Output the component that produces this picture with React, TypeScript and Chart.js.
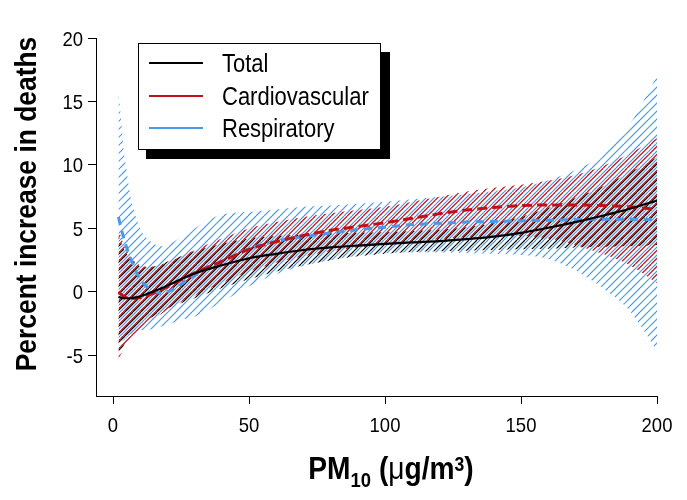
import React, { useEffect, useRef } from 'react';
import { Chart, registerables } from 'chart.js';
Chart.register(...registerables);

// PM10 concentration (µg/m3)
const pm10 = [2, 3, 4, 5, 6, 8, 10, 12, 15, 18, 20, 25, 30, 40, 50, 60, 70, 80, 90, 100, 110, 120, 130, 140, 150, 160, 170, 180, 190, 200];

// Total mortality
const totalEst = [-0.4, -0.45, -0.5, -0.5, -0.5, -0.45, -0.35, -0.2, 0.05, 0.3, 0.5, 1.0, 1.45, 2.1, 2.65, 3.0, 3.3, 3.5, 3.65, 3.78, 3.9, 4.0, 4.15, 4.35, 4.65, 5.05, 5.5, 6.0, 6.55, 7.2];
const totalLow = [-5.0, -4.6, -4.2, -3.8, -3.5, -3.0, -2.6, -2.3, -1.9, -1.5, -1.3, -0.9, -0.5, 0.3, 1.0, 1.6, 2.1, 2.5, 2.8, 3.0, 3.15, 3.2, 3.25, 3.3, 3.35, 3.4, 3.5, 3.55, 3.6, 3.7];
const totalHigh = [4.5, 3.9, 3.4, 3.0, 2.7, 2.3, 2.0, 1.95, 2.0, 2.2, 2.4, 2.8, 3.2, 3.8, 4.2, 4.4, 4.5, 4.6, 4.65, 4.7, 4.8, 4.9, 5.1, 5.4, 5.9, 6.6, 7.4, 8.3, 9.4, 10.6];

// Cardiovascular mortality
const cardioEst = [0.0, -0.2, -0.35, -0.45, -0.5, -0.5, -0.45, -0.35, -0.1, 0.2, 0.4, 0.95, 1.5, 2.4, 3.35, 3.95, 4.45, 4.85, 5.15, 5.45, 5.8, 6.15, 6.45, 6.65, 6.8, 6.85, 6.85, 6.8, 6.7, 6.5];
const cardioLow = [-5.3, -4.9, -4.5, -4.1, -3.8, -3.3, -2.9, -2.6, -2.1, -1.7, -1.4, -0.8, -0.3, 0.7, 1.6, 2.3, 2.8, 3.2, 3.5, 3.7, 3.95, 4.15, 4.3, 4.4, 4.4, 4.2, 3.7, 3.0, 2.1, 0.7];
const cardioHigh = [5.0, 4.3, 3.7, 3.3, 2.9, 2.4, 2.1, 2.0, 2.0, 2.2, 2.3, 2.8, 3.3, 4.2, 5.0, 5.5, 5.9, 6.2, 6.45, 6.7, 7.1, 7.5, 7.9, 8.2, 8.45, 8.75, 9.2, 9.9, 10.9, 12.1];

// Respiratory mortality
const respEst = [5.9, 5.0, 4.2, 3.5, 2.9, 1.8, 1.0, 0.5, 0.05, -0.1, 0.0, 0.6, 1.3, 2.4, 3.4, 4.0, 4.35, 4.65, 4.9, 5.1, 5.3, 5.4, 5.5, 5.55, 5.6, 5.65, 5.7, 5.72, 5.72, 5.7];
const respLow = [-4.0, -3.9, -3.8, -3.6, -3.4, -3.2, -3.0, -3.0, -2.9, -2.7, -2.6, -2.2, -1.95, -0.8, 0.45, 1.4, 2.05, 2.5, 2.85, 3.05, 3.1, 3.1, 3.05, 3.0, 2.9, 2.6, 1.7, 0.3, -1.5, -4.6];
const respHigh = [15.9, 13.5, 11.0, 9.6, 8.0, 6.2, 5.0, 4.3, 3.8, 3.6, 3.7, 4.3, 5.0, 6.1, 6.3, 6.5, 6.7, 6.8, 6.95, 7.1, 7.3, 7.5, 7.7, 7.95, 8.25, 8.8, 9.6, 10.8, 13.2, 17.0];

const xTicks = [0, 50, 100, 150, 200];
const yTicks = [-5, 0, 5, 10, 15, 20];
const legendLabels = ['Total', 'Cardiovascular', 'Respiratory'];

const BLACK = '#000000';
const RED = '#be1118';
const BLUE = '#4a98e8';
const FONT = '"Liberation Sans", Arial, sans-serif';
const SX = 0.88; // horizontal condensing of text

const pts = (ys: number[]) => pm10.map((x, i) => ({ x, y: ys[i] }));

function makeHatch(color: string, offset: number) {
  const W = 24, H = 24;
  const c = document.createElement('canvas');
  c.width = W;
  c.height = H;
  const g = c.getContext('2d')!;
  g.strokeStyle = color;
  g.lineWidth = 1.2;
  for (let k = -4; k <= 4; k++) {
    const a = offset + k * 8;
    g.beginPath();
    g.moveTo(a, H);
    g.lineTo(a + W, 0);
    g.stroke();
  }
  return g.createPattern(c, 'repeat')!;
}

function txt(ctx: CanvasRenderingContext2D, s: string, x: number, y: number, font: string, align: CanvasTextAlign) {
  ctx.save();
  ctx.font = font;
  ctx.translate(x, y);
  ctx.scale(SX, 1);
  ctx.textAlign = align;
  ctx.textBaseline = 'alphabetic';
  ctx.fillText(s, 0, 0);
  ctx.restore();
}

const overlayPlugin = {
  id: 'overlay',
  afterDraw(chart: any) {
    const ctx = chart.ctx as CanvasRenderingContext2D;
    const xs = chart.scales.x;
    const ys = chart.scales.y;
    ctx.save();
    ctx.fillStyle = '#000';

    // tick labels at the library's tick positions
    xTicks.forEach((v) => txt(ctx, String(v), xs.getPixelForValue(v), 432, `21px ${FONT}`, 'center'));
    yTicks.forEach((v) => txt(ctx, String(v), 83, ys.getPixelForValue(v) + 7.5, `21px ${FONT}`, 'right'));

    // legend with drop shadow
    ctx.fillStyle = '#000';
    ctx.fillRect(146, 52, 244, 107);
    ctx.fillStyle = '#fff';
    ctx.fillRect(138.5, 43.5, 242, 106);
    ctx.strokeStyle = '#000';
    ctx.lineWidth = 1;
    ctx.strokeRect(138.5, 43.5, 242, 106);
    const cols = [BLACK, RED, BLUE];
    const rows = [63, 96, 128];
    legendLabels.forEach((lab, i) => {
      ctx.strokeStyle = cols[i];
      ctx.lineWidth = 2;
      ctx.beginPath();
      ctx.moveTo(149, rows[i]);
      ctx.lineTo(203, rows[i]);
      ctx.stroke();
      ctx.fillStyle = '#000';
      txt(ctx, lab, 222, rows[i] + 9, `25px ${FONT}`, 'left');
    });

    // y-axis title
    ctx.save();
    ctx.translate(28, 204);
    ctx.rotate(-Math.PI / 2);
    ctx.scale(SX, 1);
    ctx.font = `bold 30px ${FONT}`;
    ctx.textAlign = 'center';
    ctx.textBaseline = 'middle';
    ctx.fillStyle = '#000';
    ctx.fillText('Percent increase in deaths', 0, 0);
    ctx.restore();

    // x-axis title: PM10 (µg/m3)
    const parts: [string, string, number][] = [
      ['PM', `bold 32px ${FONT}`, 0],
      ['10', `bold 21px ${FONT}`, 8],
      [' (', `bold 32px ${FONT}`, 0],
      ['\u03bc', `32px ${FONT}`, 0],
      ['g/m', `bold 32px ${FONT}`, 0],
      ['3', `bold 20px ${FONT}`, -8],
      [')', `bold 32px ${FONT}`, 0],
    ];
    let total = 0;
    parts.forEach(([t, f]) => {
      ctx.font = f;
      total += ctx.measureText(t).width * SX;
    });
    let x = 391 - total / 2;
    ctx.fillStyle = '#000';
    parts.forEach(([t, f, dy]) => {
      txt(ctx, t, x, 479 + dy, f, 'left');
      ctx.font = f;
      x += ctx.measureText(t).width * SX;
    });
    ctx.restore();
  },
};

export default function App() {
  const ref = useRef<HTMLCanvasElement | null>(null);
  useEffect(() => {
    document.body.style.margin = '0';
    const canvas = ref.current!;
    const hatchBlue = makeHatch(BLUE, 0);
    const hatchRed = makeHatch(RED, 3.3);
    const hatchBlack = makeHatch(BLACK, 5.0);
    const bandDs = (hi: number[], lo: number[], pat: CanvasPattern, order: number) => [
      {
        data: pts(hi),
        borderColor: 'rgba(0,0,0,0)',
        borderWidth: 0,
        pointRadius: 0,
        fill: '+1',
        backgroundColor: pat,
        cubicInterpolationMode: 'monotone',
        order,
      },
      {
        data: pts(lo),
        borderColor: 'rgba(0,0,0,0)',
        borderWidth: 0,
        pointRadius: 0,
        fill: false,
        cubicInterpolationMode: 'monotone',
        order,
      },
    ];
    const lineDs = (ys: number[], color: string, dash: number[], width: number, order: number) => ({
      data: pts(ys),
      borderColor: color,
      borderWidth: width,
      borderDash: dash,
      pointRadius: 0,
      fill: false,
      cubicInterpolationMode: 'monotone',
      order,
    });
    const chart = new Chart(canvas, {
      type: 'line',
      data: {
        datasets: [
          ...bandDs(respHigh, respLow, hatchBlue, 5),
          ...bandDs(cardioHigh, cardioLow, hatchRed, 4),
          ...bandDs(totalHigh, totalLow, hatchBlack, 3),
          lineDs(respEst, BLUE, [8, 6], 3, 2),
          lineDs(cardioEst, RED, [10, 5], 3, 1),
          lineDs(totalEst, BLACK, [], 2.2, 0),
        ] as any,
      },
      options: {
        responsive: false,
        animation: false,
        events: [],
        layout: { padding: { top: 38, right: 30, left: 0, bottom: 0 } },
        plugins: { legend: { display: false }, tooltip: { enabled: false } },
        scales: {
          x: {
            type: 'linear',
            min: -6.25,
            max: 200,
            afterBuildTicks: (s: any) => {
              s.ticks = xTicks.map((v) => ({ value: v }));
            },
            afterFit: (s: any) => {
              s.height = 104;
            },
            grid: { drawOnChartArea: false, tickLength: 8, color: '#000', lineWidth: 1 },
            border: { display: true, color: '#000', width: 1 },
            ticks: { display: false },
          },
          y: {
            type: 'linear',
            min: -8.2,
            max: 20,
            afterBuildTicks: (s: any) => {
              s.ticks = yTicks.map((v) => ({ value: v }));
            },
            afterFit: (s: any) => {
              s.width = 96;
            },
            grid: { drawOnChartArea: false, tickLength: 8, color: '#000', lineWidth: 1 },
            border: { display: true, color: '#000', width: 1 },
            ticks: { display: false },
          },
        },
      },
      plugins: [overlayPlugin],
    });
    return () => chart.destroy();
  }, []);
  return (
    <div style={{ width: 687, height: 500 }}>
      <canvas ref={ref} width={687} height={500} />
    </div>
  );
}
